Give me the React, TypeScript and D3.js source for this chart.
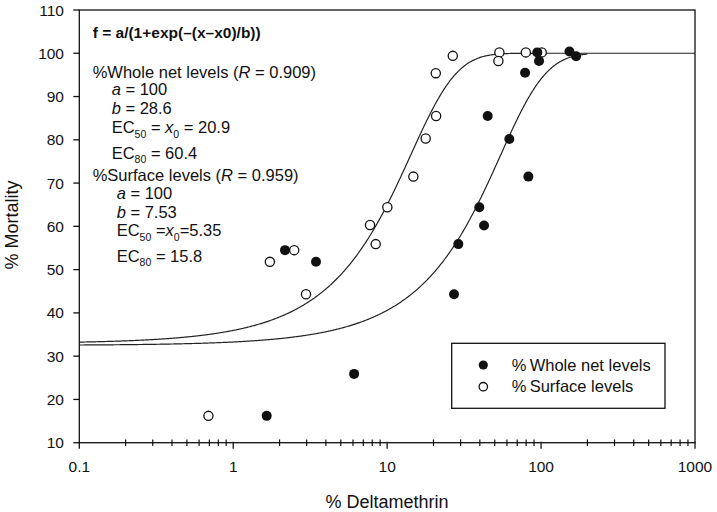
import React from "react";
import * as d3 from "d3";

const wholeX = [1.65, 2.17, 3.45, 6.1, 27.2, 29.0, 39.7, 42.6, 45.0, 62.2, 78.7, 82.7, 94.5, 97.0, 152.8, 168.8];
const wholeY = [16.2, 54.5, 51.8, 25.9, 44.3, 55.9, 64.4, 60.2, 85.5, 80.2, 95.5, 71.5, 100.2, 98.2, 100.4, 99.3];
const surfX = [0.69, 1.73, 2.49, 2.97, 8.43, 7.74, 10.03, 14.8, 17.8, 20.8, 20.7, 26.7, 53.6, 52.8, 79.6, 101];
const surfY = [16.2, 51.8, 54.5, 44.3, 55.9, 60.3, 64.4, 71.5, 80.3, 85.5, 95.4, 99.4, 100.2, 98.2, 100.2, 100.2];

// fitted parameters shown in the chart
const wholeFit = { a: 100, b: 28.6, x0: 20.9, xmax: 200 };
const surfFit = { a: 100, b: 7.53, x0: 5.35, xmax: 1000 };

const yTicks = [10, 20, 30, 40, 50, 60, 70, 80, 90, 100, 110];
const xMajor = [0.1, 1, 10, 100, 1000];
const xLabels = ["0.1", "1", "10", "100", "1000"];

const FONT = "'Liberation Sans', Arial, Helvetica, sans-serif";

export default function App() {
  const L = 79.3, R = 695, T = 10, B = 442.7;
  const x = d3.scaleLog().domain([0.1, 1000]).range([L, R]);
  const y = d3.scaleLinear().domain([10, 110]).range([B, T]);

  const xMinor: number[] = [];
  [0.1, 1, 10, 100].forEach((d) => {
    for (let k = 2; k <= 9; k++) xMinor.push(d * k);
  });

  const curve = (p: { a: number; b: number; x0: number; xmax: number }) => {
    const pts: [number, number][] = [];
    const lmax = Math.log10(p.xmax);
    for (let l = -1; l <= lmax + 1e-9; l += 0.005) {
      const xv = Math.pow(10, l);
      const yv = p.a / (1 + Math.exp(-(xv - p.x0) / p.b));
      pts.push([x(xv), y(yv)]);
    }
    return d3.line()(pts) || "";
  };

  const annot = { fontFamily: FONT, fontSize: 16.5, fill: "#111" } as const;
  const sub = (t: string) => (
    <tspan fontSize={10.5} dy={4.5}>{t}</tspan>
  );

  return (
    <svg width={717} height={512} style={{ position: "absolute", left: 0, top: 0, background: "#fff" }}>
      <rect x={0} y={0} width={717} height={512} fill="#fff" />
      {/* frame */}
      <rect x={L} y={T} width={R - L} height={B - T} fill="none" stroke="#111" strokeWidth={1.3} />
      {/* y ticks */}
      {yTicks.map((t) => (
        <g key={"y" + t}>
          <line x1={L - 6} x2={L} y1={y(t)} y2={y(t)} stroke="#111" strokeWidth={1.3} />
          <text x={64} y={y(t) + 5.5} textAnchor="end" fontFamily={FONT} fontSize={15.5} fill="#111">{t}</text>
        </g>
      ))}
      {/* x ticks */}
      {xMajor.map((t, i) => (
        <g key={"x" + t}>
          <line x1={x(t)} x2={x(t)} y1={B - 1} y2={B + 6} stroke="#111" strokeWidth={1.3} />
          <text x={x(t)} y={472} textAnchor="middle" fontFamily={FONT} fontSize={15.5} fill="#111">{xLabels[i]}</text>
        </g>
      ))}
      {xMinor.map((t) => (
        <line key={"m" + t} x1={x(t)} x2={x(t)} y1={B - 3.3} y2={B + 3.3} stroke="#111" strokeWidth={1.2} />
      ))}
      {/* axis titles */}
      <text x={387} y={508} textAnchor="middle" fontFamily={FONT} fontSize={18} fill="#111">% Deltamethrin</text>
      <text transform="translate(18,225) rotate(-90)" textAnchor="middle" fontFamily={FONT} fontSize={18} fill="#111">% Mortality</text>

      {/* curves */}
      <path d={curve(surfFit)} fill="none" stroke="#222" strokeWidth={1.2} />
      <path d={curve(wholeFit)} fill="none" stroke="#222" strokeWidth={1.2} />

      {/* points */}
      {surfX.map((xv, i) => (
        <circle key={"s" + i} cx={x(xv)} cy={y(surfY[i])} r={4.6} fill="#fff" stroke="#111" strokeWidth={1.3} />
      ))}
      {wholeX.map((xv, i) => (
        <circle key={"w" + i} cx={x(xv)} cy={y(wholeY[i])} r={5} fill="#111" />
      ))}

      {/* annotations */}
      <text x={92.7} y={38} {...annot} fontSize={15.5} fontWeight="bold">f = a/(1+exp(–(x–x0)/b))</text>
      <text x={92.7} y={77.5} {...annot}>%Whole net levels (<tspan fontStyle="italic">R</tspan> = 0.909)</text>
      <text x={111.7} y={95} {...annot}><tspan fontStyle="italic">a</tspan> = 100</text>
      <text x={111.7} y={114} {...annot}><tspan fontStyle="italic">b</tspan> = 28.6</text>
      <text x={111.7} y={133} {...annot}>EC{sub("50")}<tspan dy={-4.5}> = </tspan><tspan fontStyle="italic">x</tspan>{sub("0")}<tspan dy={-4.5}> = 20.9</tspan></text>
      <text x={111.7} y={158.5} {...annot}>EC{sub("80")}<tspan dy={-4.5}> = 60.4</tspan></text>
      <text x={92.7} y={180.5} {...annot}>%Surface levels (<tspan fontStyle="italic">R</tspan> = 0.959)</text>
      <text x={116.7} y={198.5} {...annot}><tspan fontStyle="italic">a</tspan> = 100</text>
      <text x={116.7} y={217.5} {...annot}><tspan fontStyle="italic">b</tspan> = 7.53</text>
      <text x={116.7} y={236} {...annot}>EC{sub("50")}<tspan dy={-4.5}> =</tspan><tspan fontStyle="italic">x</tspan>{sub("0")}<tspan dy={-4.5}>=5.35</tspan></text>
      <text x={116.7} y={261.5} {...annot}>EC{sub("80")}<tspan dy={-4.5}> = 15.8</tspan></text>

      {/* legend */}
      <rect x={451.7} y={343.3} width={213.3} height={65} fill="#fff" stroke="#111" strokeWidth={1.3} />
      <circle cx={483.3} cy={365} r={4.6} fill="#111" />
      <circle cx={483.3} cy={386.7} r={4.2} fill="#fff" stroke="#111" strokeWidth={1.3} />
      <text x={511.7} y={370.5} fontFamily={FONT} fontSize={16.5} fill="#111">%&#8201;Whole net levels</text>
      <text x={511.7} y={392.2} fontFamily={FONT} fontSize={16.5} fill="#111">%&#8201;Surface levels</text>
    </svg>
  );
}
